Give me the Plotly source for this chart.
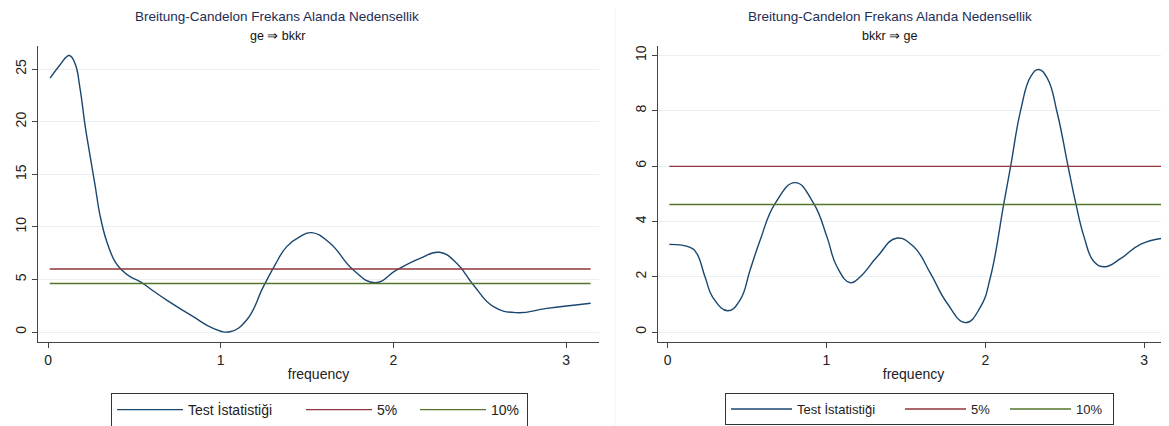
import plotly.graph_objects as go

# ---- data ----
freq_left = [0.012, 0.069, 0.123, 0.156, 0.185, 0.214, 0.243, 0.272, 0.301, 0.340, 0.388, 0.427,
             0.475, 0.533, 0.610, 0.687, 0.841, 0.957, 1.054, 1.150, 1.247, 1.314, 1.382, 1.459,
             1.527, 1.633, 1.768, 1.893, 2.019, 2.154, 2.266, 2.366, 2.463, 2.579, 2.714, 2.888,
             3.1416]
stat_left = [24.14, 25.4, 26.3, 25.55, 23.2, 19.7, 16.8, 14.0, 11.1, 8.6, 6.69, 5.9,
             5.26, 4.79, 3.9, 3.04, 1.46, 0.35, 0.03, 1.14, 4.31, 6.37, 8.12, 9.07,
             9.45, 8.44, 5.9, 4.69, 5.9, 7.0, 7.58, 6.54, 4.47, 2.41, 1.84, 2.25,
             2.73]

freq_right = [0.01, 0.141, 0.183, 0.235, 0.288, 0.379, 0.456, 0.519, 0.582, 0.677, 0.803, 0.919,
              1.003, 1.066, 1.150, 1.213, 1.319, 1.440, 1.550, 1.655, 1.760, 1.876, 1.970, 2.033,
              2.117, 2.160, 2.223, 2.286, 2.336, 2.391, 2.454, 2.521, 2.570, 2.622, 2.685, 2.753,
              2.854, 2.980, 3.1416]
stat_right = [3.17, 3.06, 2.84, 2.0, 1.22, 0.77, 1.16, 2.24, 3.32, 4.65, 5.40, 4.65,
              3.44, 2.36, 1.78, 2.0, 2.72, 3.39, 3.08, 2.12, 1.04, 0.34, 0.91, 2.0,
              4.65, 6.0, 8.02, 9.23, 9.49, 9.17, 7.90, 6.0, 4.65, 3.44, 2.54, 2.36,
              2.66, 3.18, 3.41]

crit5 = 5.99
crit10 = 4.61
freq_span = [0.01, 3.1416]

titles = ["Breitung-Candelon Frekans Alanda Nedensellik", "Breitung-Candelon Frekans Alanda Nedensellik"]
subtitles = ["ge ⇒ bkkr", "bkkr ⇒ ge"]
names = ["Test İstatistiği", "5%", "10%"]
xticks = [0, 1, 2, 3]
yticks_left = [0, 5, 10, 15, 20, 25]
yticks_right = [0, 2, 4, 6, 8, 10]

NAVY = "#1a476f"
MAROON = "#90353b"
GREEN = "#55752f"
FONT = "Liberation Sans, Arial, sans-serif"

# page body has an 8px margin: size the figure so that it fills the window
OFF = 8
W, H = 1169 - OFF, 426 - OFF

def fx(px):
    return (px - OFF) / W

def fy(py):
    return (426 - py) / H

leg_widths = {"legend": [108, 33, 31], "legend2": [98, 29, 32]}

fig = go.Figure()
panels = [
    ("x", "y", "legend", freq_left, stat_left),
    ("x2", "y2", "legend2", freq_right, stat_right),
]
for xa, ya, lg, fxs, fys in panels:
    lw = leg_widths[lg]
    fig.add_trace(go.Scatter(x=fxs, y=fys, mode="lines",
                             line=dict(color=NAVY, width=1.4, shape="spline", smoothing=1.3),
                             name=names[0], xaxis=xa, yaxis=ya, legend=lg, legendwidth=lw[0]))
    fig.add_trace(go.Scatter(x=freq_span, y=[crit5, crit5], mode="lines", line=dict(color=MAROON, width=1.4),
                             name=names[1], xaxis=xa, yaxis=ya, legend=lg, legendwidth=lw[1]))
    fig.add_trace(go.Scatter(x=freq_span, y=[crit10, crit10], mode="lines", line=dict(color=GREEN, width=1.4),
                             name=names[2], xaxis=xa, yaxis=ya, legend=lg, legendwidth=lw[2]))

ydom = [fy(342), fy(46)]

def xaxis(domain, rng, anchor):
    return dict(domain=domain, range=rng, anchor=anchor, tickvals=xticks, ticks="outside", ticklen=5,
                tickcolor="#444", tickwidth=1, showline=True, linecolor="#444", linewidth=1,
                showgrid=False, zeroline=False, automargin=False,
                tickfont=dict(size=14, color="#222", family=FONT),
                title=dict(text="frequency", font=dict(size=14, color="#222", family=FONT), standoff=2))

def yaxis(rng, ticks, anchor):
    return dict(domain=ydom, range=rng, anchor=anchor, tickvals=ticks, ticks="outside", ticklen=5,
                tickcolor="#444", tickwidth=1, showline=True, linecolor="#444", linewidth=1,
                showgrid=True, gridcolor="#eaf0f2", gridwidth=1, zeroline=False, tickangle=-90,
                automargin=False, tickfont=dict(size=14, color="#222", family=FONT))

leg_common = dict(orientation="h", y=fy(393), yanchor="top", xanchor="left",
                  bordercolor="#333", borderwidth=1, bgcolor="white", tracegroupgap=0)

fig.update_layout(
    width=W, height=H,
    margin=dict(l=0, r=0, t=0, b=0, autoexpand=False),
    paper_bgcolor="white", plot_bgcolor="white",
    font=dict(family=FONT),
    xaxis=xaxis([fx(38), fx(599)], [-0.058, 3.19], "y"),
    yaxis=yaxis([-0.95, 27.2], yticks_left, "x"),
    xaxis2=xaxis([fx(658), 1.0], [-0.061, 3.157], "y2"),
    yaxis2=yaxis([-0.36, 10.34], yticks_right, "x2"),
    legend=dict(x=fx(111), itemwidth=66, font=dict(size=14, color="#222", family=FONT), **leg_common),
    legend2=dict(x=fx(725), itemwidth=61, font=dict(size=13, color="#222", family=FONT), **leg_common),
    showlegend=True,
)

# faint border of the right-hand graph region
fig.add_shape(type="line", xref="paper", yref="paper", x0=fx(615), x1=fx(615), y0=0, y1=1,
              line=dict(color="#f4f4f4", width=1), layer="below")

centers = [277, 890]
for c, t, s in zip(centers, titles, subtitles):
    fig.add_annotation(x=fx(c), y=fy(17), xref="paper", yref="paper", text=t, showarrow=False,
                       font=dict(size=13.5, color="#1e2d55", family=FONT), xanchor="center", yanchor="middle")
    fig.add_annotation(x=fx(c), y=fy(36), xref="paper", yref="paper", text=s, showarrow=False,
                       font=dict(size=12.5, color="#111", family=FONT), xanchor="center", yanchor="middle")

fig.write_html("out.html")
